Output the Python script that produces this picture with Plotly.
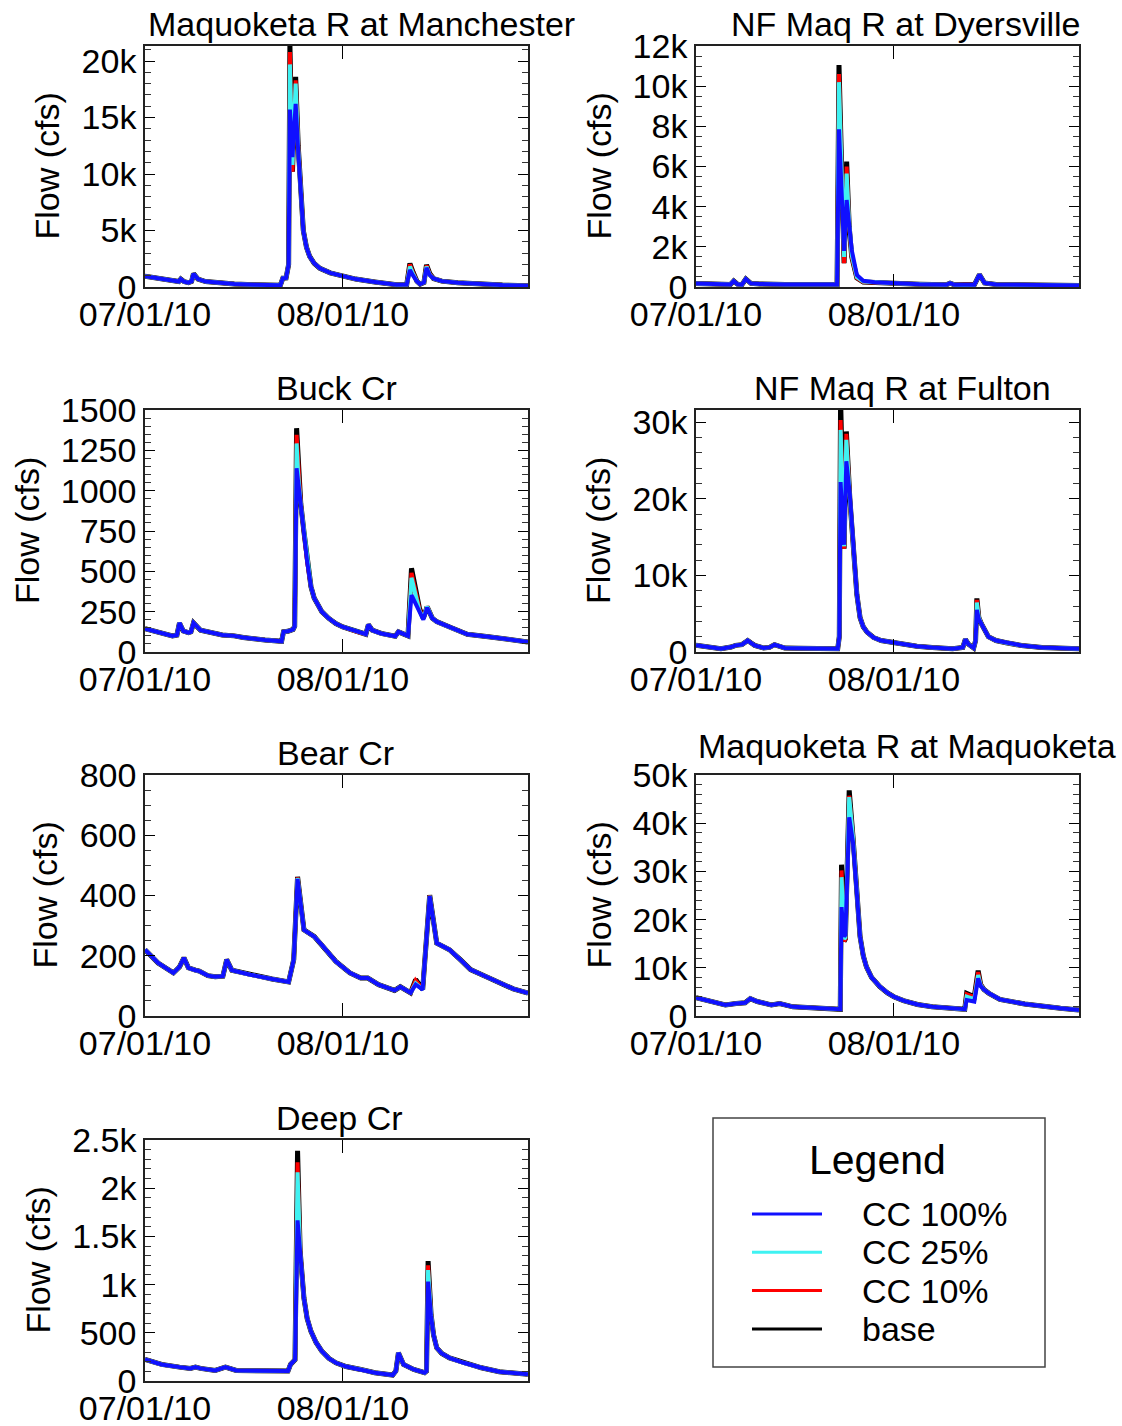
import pandas as pd
import plotly.graph_objects as go

# ---------------------------------------------------------------------------
# Simulated streamflow (cfs), summer 2010, four land-cover scenarios per gauge.
# Times are given in days after 2010-07-01 00:00.
# ---------------------------------------------------------------------------
START = pd.Timestamp("2010-07-01")
END = pd.Timestamp("2010-08-30")

SCENARIOS = ["base", "CC 10%", "CC 25%", "CC 100%"]

# --- Maquoketa R at Manchester ---------------------------------------------
MANCHESTER_DAYS = [0, 2, 4, 5.3, 5.6, 6.1, 6.8, 7.3, 7.6, 8.3, 9.5, 11.5, 14, 17, 19.5, 21.2,
                   21.6, 22.1, 22.5, 22.7, 23.1, 23.6, 24.0, 24.4, 24.8, 25.3, 25.8, 26.5, 27.4,
                   29, 30.9, 33, 36, 39.4, 41.0, 41.5, 42.0, 42.6, 43.1, 43.7, 44.1, 44.6, 45.2,
                   46.5, 49, 52, 56, 60]
MANCHESTER_BASE = [950, 800, 600, 480, 700, 480, 380, 500, 1180, 700, 480, 350, 270, 210, 170, 150,
                   780, 800, 2000, 21500, 10200, 18600, 12500, 8000, 5000, 3500, 2700, 2100, 1650,
                   1250, 950, 700, 450, 200, 220, 2080, 1300, 500, 250, 400, 1950, 1200, 750,
                   520, 380, 260, 170, 110]
MANCHESTER_CC10 = [950, 800, 600, 480, 700, 480, 380, 500, 1180, 700, 480, 350, 270, 210, 170, 150,
                   780, 800, 2000, 20800, 10200, 18300, 12500, 8000, 5000, 3500, 2700, 2100, 1650,
                   1250, 950, 700, 450, 200, 220, 2000, 1250, 500, 250, 400, 1900, 1150, 750,
                   520, 380, 260, 170, 110]
MANCHESTER_CC25 = [950, 800, 600, 480, 700, 480, 380, 500, 1180, 700, 480, 350, 270, 210, 170, 150,
                   780, 800, 2000, 19700, 10800, 18000, 12300, 8000, 5000, 3500, 2700, 2100, 1650,
                   1250, 950, 700, 450, 200, 220, 1800, 1150, 500, 250, 400, 1800, 1100, 750,
                   520, 380, 260, 170, 110]
MANCHESTER_CC100 = [950, 800, 600, 480, 700, 480, 380, 500, 1180, 700, 480, 350, 270, 210, 170, 150,
                    780, 800, 2000, 15700, 11500, 16200, 12000, 8000, 5000, 3500, 2700, 2100, 1650,
                    1250, 950, 700, 450, 200, 220, 1500, 1000, 500, 250, 400, 1700, 1050, 750,
                    520, 380, 260, 170, 110]

# --- NF Maq R at Dyersville ------------------------------------------------
DYERSVILLE_DAYS = [0, 3, 5.4, 5.9, 6.5, 7.2, 7.8, 8.6, 10, 14, 18, 21.6, 22.1, 22.4, 23.2, 23.6,
                   24.0, 24.4, 25.2, 26.2, 28, 31, 35, 39.2, 39.8, 40.5, 42, 43.6, 44.4, 45.2,
                   47, 52, 60]
DYERSVILLE_BASE = [170, 150, 130, 300, 140, 120, 400, 180, 150, 130, 120, 110, 130, 11050, 1180, 6240,
                   3000, 1500, 450, 250, 220, 190, 140, 110, 190, 110, 100, 110, 620, 200,
                   130, 100, 80]
DYERSVILLE_CC10 = [170, 150, 130, 300, 140, 120, 400, 180, 150, 130, 120, 110, 130, 10600, 1180, 6000,
                   3000, 1500, 450, 250, 220, 190, 140, 110, 190, 110, 100, 110, 620, 200,
                   130, 100, 80]
DYERSVILLE_CC25 = [170, 150, 130, 300, 140, 120, 400, 180, 150, 130, 120, 110, 130, 10200, 1500, 5650,
                   3100, 1600, 500, 270, 230, 190, 140, 110, 190, 110, 100, 110, 620, 200,
                   130, 100, 80]
DYERSVILLE_CC100 = [170, 150, 130, 300, 140, 120, 400, 180, 150, 130, 120, 110, 130, 7850, 1800, 4330,
                    3200, 1840, 600, 310, 240, 190, 140, 110, 190, 110, 100, 110, 620, 200,
                    130, 100, 80]

# --- Buck Cr -----------------------------------------------------------------
BUCK_DAYS = [0, 2, 4.3, 5.0, 5.4, 6.0, 6.8, 7.2, 7.6, 8.7, 10.5, 12.1, 14, 15.4, 18.8, 21.4,
             21.7, 22.4, 23.2, 23.45, 23.75, 24.0, 24.4, 24.9, 25.4, 26.0, 26.5, 27.7, 28.8,
             29.9, 31, 33.2, 34.6, 35.0, 35.6, 37, 38.8, 39.2, 39.7, 40.5, 41.2, 41.75, 42.4,
             43.0, 43.6, 44.2, 45.0, 45.7, 48, 50.5, 53.8, 57.2, 60]
BUCK_BASE = [145, 125, 100, 105, 180, 130, 120, 125, 180, 135, 118, 105, 100, 90, 75, 66,
             125, 128, 140, 160, 1387, 1160, 920, 745, 560, 405, 335, 250, 208,
             176, 155, 125, 110, 170, 135, 115, 100, 98, 125, 108, 100, 519, 380,
             270, 209, 281, 210, 188, 150, 110, 95, 75, 62]
BUCK_CC10 = [145, 125, 100, 105, 180, 130, 120, 125, 180, 135, 118, 105, 100, 90, 75, 66,
             125, 128, 140, 160, 1346, 1140, 920, 745, 560, 405, 335, 250, 208,
             176, 155, 125, 110, 170, 135, 115, 100, 98, 125, 108, 100, 490, 370,
             265, 209, 281, 210, 188, 150, 110, 95, 75, 62]
BUCK_CC25 = [145, 125, 100, 105, 180, 130, 120, 125, 180, 135, 118, 105, 100, 90, 75, 66,
             125, 128, 140, 160, 1293, 1100, 915, 745, 560, 405, 335, 250, 208,
             176, 155, 125, 110, 170, 135, 115, 100, 98, 125, 108, 100, 460, 350,
             255, 209, 281, 210, 188, 150, 110, 95, 75, 62]
BUCK_CC100 = [145, 125, 100, 105, 180, 130, 120, 125, 180, 135, 118, 105, 100, 90, 75, 66,
              125, 128, 140, 160, 1139, 1040, 900, 740, 560, 405, 335, 250, 208,
              176, 155, 125, 110, 170, 135, 115, 100, 98, 125, 108, 100, 353, 300,
              240, 200, 275, 210, 188, 150, 110, 95, 75, 62]

# --- NF Maq R at Fulton ------------------------------------------------------
FULTON_DAYS = [0, 2, 3.9, 5.5, 6.2, 7.2, 8.1, 8.6, 9.2, 10.6, 11.5, 12.3, 13.2, 13.9, 16, 19,
               22.2, 22.45, 22.65, 23.2, 23.55, 24.1, 24.5, 24.8, 25.2, 25.7, 26.2, 26.8, 27.8,
               29, 30.9, 32.5, 34.6, 37, 40.2, 41.8, 42.2, 42.7, 43.5, 43.8, 44.0, 44.3, 44.7,
               45.8, 47, 48.6, 51, 54.2, 60]
FULTON_BASE = [870, 700, 430, 650, 870, 960, 1500, 1200, 870, 520, 600, 960, 750, 520, 480, 440,
               420, 2000, 33000, 13500, 28800, 20000, 15500, 12000, 7500, 4500, 3300, 2600, 1900,
               1500, 1200, 950, 740, 580, 430, 600, 1650, 1000, 520, 1500, 7000, 4500, 3700,
               2000, 1500, 1200, 850, 600, 430]
FULTON_CC10 = [870, 700, 430, 650, 870, 960, 1500, 1200, 870, 520, 600, 960, 750, 520, 480, 440,
               420, 2000, 30300, 13500, 28500, 20000, 15500, 12000, 7500, 4500, 3300, 2600, 1900,
               1500, 1200, 950, 740, 580, 430, 600, 1650, 1000, 520, 1500, 6800, 4500, 3700,
               2000, 1500, 1200, 850, 600, 430]
FULTON_CC25 = [870, 700, 430, 650, 870, 960, 1500, 1200, 870, 520, 600, 960, 750, 520, 480, 440,
               420, 2000, 29000, 13800, 27700, 20000, 15500, 12000, 7500, 4500, 3300, 2600, 1900,
               1500, 1200, 950, 740, 580, 430, 600, 1650, 1000, 520, 1500, 6450, 4500, 3700,
               2000, 1500, 1200, 850, 600, 430]
FULTON_CC100 = [870, 700, 430, 650, 870, 960, 1500, 1200, 870, 520, 600, 960, 750, 520, 480, 440,
                420, 2000, 22200, 14000, 24900, 20500, 15500, 12000, 7500, 4500, 3300, 2600, 1900,
                1500, 1200, 950, 740, 580, 430, 600, 1650, 1000, 520, 1500, 5500, 4300, 3700,
                2000, 1500, 1200, 850, 600, 430]

# --- Bear Cr -----------------------------------------------------------------
BEAR_DAYS = [0, 2.06, 4.45, 5.4, 6.1, 6.8, 7.9, 8.5, 9.85, 11, 12.2, 12.8, 13.6, 16.5, 19.9,
             22.5, 23.3, 23.9, 24.9, 26.5, 27.9, 29.9, 32.1, 33.8, 34.9, 36.6, 39.1, 40, 41.6,
             42.4, 43.5, 44.6, 45.7, 47.7, 49.4, 51, 53.3, 55.5, 57.7, 60]
BEAR_BASE = [220, 176, 143, 163, 193, 160, 152, 149, 134, 130, 132, 187, 152, 137, 123,
             113, 187, 462, 286, 264, 231, 181, 143, 126, 126, 104, 85, 97, 77,
             121, 88, 401, 242, 220, 187, 154, 132, 110, 90, 76]
BEAR_CC10 = [220, 176, 143, 163, 193, 160, 152, 149, 134, 130, 132, 187, 152, 137, 123,
             113, 187, 460, 286, 264, 231, 181, 143, 126, 126, 104, 85, 97, 77,
             118, 88, 400, 242, 220, 187, 154, 132, 110, 90, 76]
BEAR_CC25 = [220, 176, 143, 163, 193, 160, 152, 149, 134, 130, 132, 187, 152, 137, 123,
             113, 187, 458, 286, 264, 231, 181, 143, 126, 126, 104, 85, 97, 77,
             108, 88, 399, 242, 220, 187, 154, 132, 110, 90, 76]
BEAR_CC100 = [220, 176, 143, 163, 193, 160, 152, 149, 134, 130, 132, 187, 152, 137, 123,
              113, 187, 455, 286, 264, 231, 181, 143, 126, 126, 104, 85, 97, 77,
              104, 88, 398, 242, 220, 187, 154, 132, 110, 90, 76]

# --- Maquoketa R at Maquoketa --------------------------------------------------
MAQUOKETA_DAYS = [0, 2.3, 4.6, 6.3, 7.7, 8.5, 9.6, 11.8, 13.1, 15.2, 19.1, 22.6, 22.8, 23.2,
                  23.4, 24.0, 24.6, 25.1, 25.7, 26.2, 26.7, 27.5, 28.8, 30, 31, 32.5, 34.7, 37,
                  39.2, 42.1, 42.4, 43.6, 44.2, 44.6, 45.1, 45.9, 47.6, 51.5, 57.1, 60]
MAQUOKETA_BASE = [3800, 3000, 2300, 2600, 2750, 3600, 3000, 2300, 2600, 1900, 1600, 1400, 31400, 15500,
                  16000, 46800, 37000, 28000, 16500, 12500, 10200, 8000, 6100, 4800, 4000, 3200, 2400,
                  1900, 1600, 1400, 4700, 4000, 9400, 6500, 5500, 4700, 3450, 2500, 1600, 1250]
MAQUOKETA_CC10 = [3800, 3000, 2300, 2600, 2750, 3600, 3000, 2300, 2600, 1900, 1600, 1400, 30200, 15500,
                  16000, 45700, 37000, 28000, 16500, 12500, 10200, 8000, 6100, 4800, 4000, 3200, 2400,
                  1900, 1600, 1400, 4500, 3900, 9100, 6500, 5500, 4700, 3450, 2500, 1600, 1250]
MAQUOKETA_CC25 = [3800, 3000, 2300, 2600, 2750, 3600, 3000, 2300, 2600, 1900, 1600, 1400, 28800, 16000,
                  16300, 45400, 37000, 28000, 16500, 12500, 10200, 8000, 6100, 4800, 4000, 3200, 2400,
                  1900, 1600, 1400, 4000, 3500, 8500, 6400, 5500, 4700, 3450, 2500, 1600, 1250]
MAQUOKETA_CC100 = [3800, 3000, 2300, 2600, 2750, 3600, 3000, 2300, 2600, 1900, 1600, 1400, 22600, 16500,
                   16800, 41200, 36000, 28000, 16500, 12500, 10200, 8000, 6100, 4800, 4000, 3200, 2400,
                   1900, 1600, 1400, 3300, 3000, 7800, 6200, 5500, 4700, 3450, 2500, 1600, 1250]

# --- Deep Cr -----------------------------------------------------------------
DEEP_DAYS = [0, 2.6, 5.4, 7.1, 7.9, 8.7, 11, 12.6, 14.3, 17.6, 22.4, 22.8, 23.5, 23.9, 24.3,
             24.9, 25.4, 26, 26.8, 27.7, 28.8, 29.9, 31.5, 33.8, 36, 38.8, 39.3, 39.7, 40.5,
             42.1, 43.8, 44.1, 44.35, 44.8, 45.2, 45.7, 46.5, 47.7, 49.9, 52.7, 55.5, 60]
DEEP_BASE = [223, 172, 144, 131, 144, 131, 110, 144, 110, 103, 103, 172, 220, 2388, 1350,
             859, 650, 515, 400, 309, 235, 189, 150, 120, 86, 62, 103, 292, 172,
             120, 86, 103, 1244, 700, 480, 344, 285, 240, 189, 137, 96, 69]
DEEP_CC10 = [223, 172, 144, 131, 144, 131, 110, 144, 110, 103, 103, 172, 220, 2268, 1350,
             859, 650, 515, 400, 309, 235, 189, 150, 120, 86, 62, 103, 292, 172,
             120, 86, 103, 1200, 700, 480, 344, 285, 240, 189, 137, 96, 69]
DEEP_CC25 = [223, 172, 144, 131, 144, 131, 110, 144, 110, 103, 103, 172, 220, 2165, 1340,
             859, 650, 515, 400, 309, 235, 189, 150, 120, 86, 62, 103, 292, 172,
             120, 86, 103, 1151, 700, 480, 344, 285, 240, 189, 137, 96, 69]
DEEP_CC100 = [223, 172, 144, 131, 144, 131, 110, 144, 110, 103, 103, 172, 220, 1667, 1300,
              859, 650, 515, 400, 309, 235, 189, 150, 120, 86, 62, 103, 292, 172,
              120, 86, 103, 1031, 680, 480, 344, 285, 240, 189, 137, 96, 69]

# --- Axis ticks per gauge ------------------------------------------------------
MANCHESTER_TICKS, MANCHESTER_LABELS = [0, 5000, 10000, 15000, 20000], ["0", "5k", "10k", "15k", "20k"]
DYERSVILLE_TICKS = [0, 2000, 4000, 6000, 8000, 10000, 12000]
DYERSVILLE_LABELS = ["0", "2k", "4k", "6k", "8k", "10k", "12k"]
BUCK_TICKS = [0, 250, 500, 750, 1000, 1250, 1500]
BUCK_LABELS = ["0", "250", "500", "750", "1000", "1250", "1500"]
FULTON_TICKS, FULTON_LABELS = [0, 10000, 20000, 30000], ["0", "10k", "20k", "30k"]
BEAR_TICKS, BEAR_LABELS = [0, 200, 400, 600, 800], ["0", "200", "400", "600", "800"]
MAQUOKETA_TICKS = [0, 10000, 20000, 30000, 40000, 50000]
MAQUOKETA_LABELS = ["0", "10k", "20k", "30k", "40k", "50k"]
DEEP_TICKS = [0, 500, 1000, 1500, 2000, 2500]
DEEP_LABELS = ["0", "500", "1k", "1.5k", "2k", "2.5k"]

DATE_TICKS = ["2010-07-01", "2010-08-01"]
DATE_LABELS = ["07/01/10", "08/01/10"]

PANELS = [
    dict(title="Maquoketa R at Manchester", days=MANCHESTER_DAYS,
         values=[MANCHESTER_BASE, MANCHESTER_CC10, MANCHESTER_CC25, MANCHESTER_CC100],
         ymax=21330, ticks=MANCHESTER_TICKS, labels=MANCHESTER_LABELS, minor=1000,
         title_pos=(361, 24), ytitle_x=46),
    dict(title="NF Maq R at Dyersville", days=DYERSVILLE_DAYS,
         values=[DYERSVILLE_BASE, DYERSVILLE_CC10, DYERSVILLE_CC25, DYERSVILLE_CC100],
         ymax=12000, ticks=DYERSVILLE_TICKS, labels=DYERSVILLE_LABELS, minor=500,
         title_pos=(906, 24), ytitle_x=598),
    dict(title="Buck Cr", days=BUCK_DAYS,
         values=[BUCK_BASE, BUCK_CC10, BUCK_CC25, BUCK_CC100],
         ymax=1500, ticks=BUCK_TICKS, labels=BUCK_LABELS, minor=50,
         title_pos=(336, 388), ytitle_x=27),
    dict(title="NF Maq R at Fulton", days=FULTON_DAYS,
         values=[FULTON_BASE, FULTON_CC10, FULTON_CC25, FULTON_CC100],
         ymax=31600, ticks=FULTON_TICKS, labels=FULTON_LABELS, minor=2000,
         title_pos=(902, 388), ytitle_x=598),
    dict(title="Bear Cr", days=BEAR_DAYS,
         values=[BEAR_BASE, BEAR_CC10, BEAR_CC25, BEAR_CC100],
         ymax=800, ticks=BEAR_TICKS, labels=BEAR_LABELS, minor=50,
         title_pos=(335, 753), ytitle_x=44),
    dict(title="Maquoketa R at Maquoketa", days=MAQUOKETA_DAYS,
         values=[MAQUOKETA_BASE, MAQUOKETA_CC10, MAQUOKETA_CC25, MAQUOKETA_CC100],
         ymax=50000, ticks=MAQUOKETA_TICKS, labels=MAQUOKETA_LABELS, minor=2000,
         title_pos=(907, 746), ytitle_x=598),
    dict(title="Deep Cr", days=DEEP_DAYS,
         values=[DEEP_BASE, DEEP_CC10, DEEP_CC25, DEEP_CC100],
         ymax=2500, ticks=DEEP_TICKS, labels=DEEP_LABELS, minor=100,
         title_pos=(339, 1118), ytitle_x=37),
]

# --- Styling -----------------------------------------------------------------
W, H = 1122, 1426
FONT = "Liberation Sans, Arial, Helvetica, sans-serif"
FS = 34
COLORS = {"base": "#000000", "CC 10%": "#ff0000", "CC 25%": "#3ff2f2", "CC 100%": "#1010ff"}
WIDTHS = {"base": 5, "CC 10%": 4, "CC 25%": 4, "CC 100%": 4}
COL_X = [(145, 528), (696, 1079)]            # plot-area pixel extents per column
ROW_Y = [(46, 287), (410, 652), (775, 1016), (1140, 1381)]


def px(x):
    return x / W


def py(y):
    return 1 - y / H


fig = go.Figure()
annotations = []
layout_axes = {}

for i, p in enumerate(PANELS):
    n = i + 1
    suffix = "" if n == 1 else str(n)
    row, col = divmod(i, 2)
    (x0, x1), (y0, y1) = COL_X[col], ROW_Y[row]
    times = [START + pd.Timedelta(days=d) for d in p["days"]]

    for scen, vals in zip(SCENARIOS, p["values"]):
        fig.add_trace(go.Scatter(
            x=times, y=vals, mode="lines", name=scen, showlegend=False,
            line=dict(color=COLORS[scen], width=WIDTHS[scen]),
            xaxis="x" + suffix, yaxis="y" + suffix,
            hovertemplate=f"{p['title']}<br>{scen}: %{{y:,.0f}} cfs<extra></extra>",
        ))

    layout_axes["xaxis" + suffix] = dict(
        domain=[px(x0), px(x1)], anchor="y" + suffix, type="date", automargin=False,
        range=[START, END], tickvals=DATE_TICKS, ticktext=DATE_LABELS,
        ticks="inside", ticklen=13, tickwidth=1.3, tickcolor="black",
        showline=True, linecolor="#222222", linewidth=1.6, mirror="ticks",
        showgrid=False, zeroline=False, ticklabelstandoff=-4,
        tickfont=dict(family=FONT, size=FS, color="black"),
    )
    layout_axes["yaxis" + suffix] = dict(
        domain=[py(y1), py(y0)], anchor="x" + suffix, automargin=False,
        range=[0, p["ymax"]], tickvals=p["ticks"], ticktext=p["labels"],
        ticks="inside", ticklen=10, tickwidth=1.3, tickcolor="black",
        minor=dict(dtick=p["minor"], tick0=0, ticks="inside", ticklen=6,
                   tickwidth=1.1, tickcolor="#333333", showgrid=False),
        showline=True, linecolor="#222222", linewidth=1.6, mirror="ticks",
        showgrid=False, zeroline=False, ticklabelstandoff=0,
        tickfont=dict(family=FONT, size=FS, color="black"),
    )

    tx, ty = p["title_pos"]
    annotations.append(dict(text=p["title"], x=px(tx), y=py(ty), xref="paper", yref="paper",
                            xanchor="center", yanchor="middle", showarrow=False,
                            font=dict(family=FONT, size=FS, color="black")))
    annotations.append(dict(text="Flow (cfs)", x=px(p["ytitle_x"]), y=py((y0 + y1) / 2),
                            xref="paper", yref="paper", textangle=-90,
                            xanchor="center", yanchor="middle", showarrow=False,
                            font=dict(family=FONT, size=FS, color="black")))

# --- Key box in the empty eighth cell ------------------------------------------
LEGEND_ORDER = ["CC 100%", "CC 25%", "CC 10%", "base"]
shapes = [dict(type="rect", xref="paper", yref="paper",
               x0=px(713), x1=px(1045), y0=py(1367), y1=py(1118),
               line=dict(color="#444444", width=1.5), fillcolor="white", layer="below")]
annotations.append(dict(text="Legend", x=px(878), y=py(1160), xref="paper", yref="paper",
                        xanchor="center", yanchor="middle", showarrow=False,
                        font=dict(family=FONT, size=41, color="black")))
for k, scen in enumerate(LEGEND_ORDER):
    yk = 1214 + 38.3 * k
    shapes.append(dict(type="line", xref="paper", yref="paper",
                       x0=px(752), x1=px(822), y0=py(yk), y1=py(yk),
                       line=dict(color=COLORS[scen], width=3)))
    annotations.append(dict(text=scen, x=px(860), y=py(yk), xref="paper", yref="paper",
                            xanchor="left", yanchor="middle", showarrow=False,
                            font=dict(family=FONT, size=FS, color="black")))

fig.update_layout(
    width=W, height=H, autosize=False,
    margin=dict(l=0, r=0, t=0, b=0, autoexpand=False),
    paper_bgcolor="white", plot_bgcolor="white",
    font=dict(family=FONT, size=FS, color="black"),
    annotations=annotations, shapes=shapes, showlegend=False,
    **layout_axes,
)

fig.write_html("out.html", config={"displayModeBar": False})
